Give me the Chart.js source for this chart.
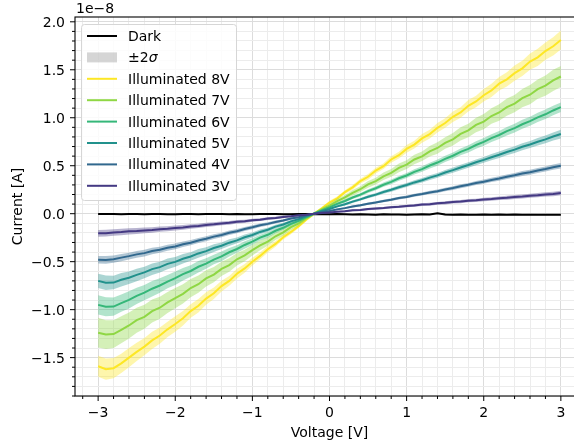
<!DOCTYPE html>
<html>
<head>
<meta charset="utf-8">
<script src="https://cdn.jsdelivr.net/npm/chart.js@4"></script>
<style>
  html, body { margin: 0; padding: 0; background: #fff; overflow: hidden; }
  #wrap { width: 600px; height: 447px; }
</style>
</head>
<body>
<div id="wrap"><canvas id="ivChart" width="600" height="447"></canvas></div>
<script>
// I-V sweep, current in units of 1e-8 A

const voltage = [-3.0,-2.9,-2.8,-2.7,-2.6,-2.5,-2.4,-2.3,-2.2,-2.1,-2.0,-1.9,-1.8,-1.7,-1.6,-1.5,-1.4,-1.3,-1.2,-1.1,-1.0,-0.9,-0.8,-0.7,-0.6,-0.5,-0.4,-0.3,-0.2,-0.1,0.0,0.1,0.2,0.3,0.4,0.5,0.6,0.7,0.8,0.9,1.0,1.1,1.2,1.3,1.4,1.5,1.6,1.7,1.8,1.9,2.0,2.1,2.2,2.3,2.4,2.5,2.6,2.7,2.8,2.9,3.0];

const dark = [-0.002,-0.004,-0.003,-0.005,-0.004,-0.003,-0.006,-0.004,-0.002,-0.005,-0.006,-0.004,-0.003,-0.005,-0.004,-0.002,-0.003,-0.005,-0.004,-0.006,-0.005,-0.003,-0.002,-0.004,-0.006,-0.005,-0.003,-0.004,-0.006,
  -0.005,-0.007,-0.004,-0.006,-0.009,-0.006,-0.008,-0.01,-0.007,-0.009,-0.008,-0.01,-0.008,-0.006,-0.008,0.004,-0.009,-0.01,-0.008,-0.011,-0.01,-0.009,-0.011,-0.008,-0.01,-0.009,-0.011,-0.01,-0.012,-0.01,-0.011,-0.012];
const ill8V = [-1.59,-1.62,-1.61,-1.56,-1.50,-1.44,-1.385,-1.32,-1.27,-1.205,-1.15,-1.09,-1.015,-0.96,-0.885,-0.83,-0.755,-0.70,-0.625,-0.57,-0.50,-0.44,-0.37,-0.315,-0.245,-0.19,-0.13,-0.06,0.0,
  0.055,0.115,0.16,0.225,0.275,0.34,0.385,0.45,0.495,0.565,0.61,0.675,0.72,0.785,0.83,0.895,0.945,1.01,1.055,1.125,1.17,1.235,1.285,1.355,1.40,1.465,1.515,1.585,1.63,1.695,1.745,1.81];
const ill7V = [-1.24,-1.26,-1.255,-1.21,-1.165,-1.11,-1.075,-1.015,-0.98,-0.925,-0.88,-0.835,-0.775,-0.735,-0.675,-0.635,-0.575,-0.535,-0.475,-0.435,-0.38,-0.33,-0.29,-0.235,-0.195,-0.14,-0.1,-0.045,0.0,
  0.045,0.085,0.13,0.17,0.218,0.255,0.305,0.34,0.39,0.425,0.478,0.512,0.565,0.598,0.65,0.685,0.738,0.775,0.832,0.868,0.925,0.96,1.018,1.055,1.11,1.148,1.205,1.24,1.298,1.335,1.39,1.43];
const ill6V = [-0.95,-0.97,-0.968,-0.932,-0.898,-0.857,-0.823,-0.782,-0.748,-0.708,-0.672,-0.63,-0.597,-0.553,-0.52,-0.478,-0.445,-0.402,-0.368,-0.326,-0.292,-0.25,-0.22,-0.178,-0.147,-0.106,-0.075,-0.034,0.0,
  0.034,0.066,0.102,0.132,0.169,0.198,0.236,0.265,0.302,0.332,0.369,0.398,0.436,0.465,0.502,0.533,0.572,0.604,0.644,0.676,0.716,0.748,0.788,0.82,0.86,0.892,0.932,0.964,1.004,1.036,1.076,1.11];
const ill5V = [-0.70,-0.72,-0.718,-0.688,-0.667,-0.638,-0.612,-0.578,-0.557,-0.523,-0.502,-0.47,-0.446,-0.414,-0.39,-0.358,-0.334,-0.302,-0.278,-0.246,-0.222,-0.19,-0.167,-0.135,-0.112,-0.08,-0.057,-0.025,0.0,
  0.026,0.049,0.076,0.099,0.126,0.149,0.176,0.199,0.226,0.249,0.276,0.299,0.326,0.349,0.376,0.399,0.429,0.454,0.482,0.507,0.536,0.561,0.589,0.614,0.643,0.668,0.697,0.721,0.75,0.775,0.804,0.83];
const ill4V = [-0.48,-0.482,-0.474,-0.458,-0.442,-0.424,-0.411,-0.389,-0.376,-0.354,-0.341,-0.319,-0.302,-0.279,-0.262,-0.239,-0.222,-0.199,-0.182,-0.159,-0.141,-0.121,-0.106,-0.086,-0.071,-0.051,-0.036,-0.016,0.0,
  0.016,0.029,0.045,0.058,0.075,0.087,0.104,0.117,0.133,0.146,0.163,0.175,0.192,0.205,0.221,0.234,0.253,0.267,0.286,0.301,0.319,0.334,0.352,0.367,0.385,0.4,0.419,0.433,0.451,0.466,0.485,0.50];
const ill3V = [-0.205,-0.203,-0.196,-0.191,-0.184,-0.181,-0.174,-0.169,-0.161,-0.157,-0.149,-0.143,-0.133,-0.127,-0.117,-0.111,-0.101,-0.095,-0.085,-0.079,-0.069,-0.062,-0.051,-0.045,-0.034,-0.027,-0.016,-0.01,0.0,
  0.008,0.012,0.021,0.026,0.035,0.039,0.048,0.053,0.059,0.068,0.073,0.081,0.086,0.095,0.099,0.108,0.113,0.121,0.126,0.135,0.139,0.148,0.153,0.161,0.166,0.174,0.179,0.188,0.193,0.201,0.206,0.215];

// 2 sigma half widths
const sigDark = [0.008,0.009,0.008,0.007,0.008,0.009,0.008,0.008,0.007,0.008,0.009,0.008,0.007,0.008,0.008,0.009,0.008,0.007,0.008,0.008,0.009,0.008,0.008,0.007,0.008,0.009,0.008,0.008,0.007,0.008,
  0.008,0.009,0.008,0.007,0.008,0.008,0.009,0.008,0.008,0.007,0.008,0.009,0.008,0.008,0.007,0.012,0.009,0.008,0.008,0.007,0.008,0.009,0.008,0.008,0.007,0.008,0.009,0.008,0.008,0.007,0.008];
const sig8V = [0.11,0.11,0.105,0.10,0.10,0.095,0.09,0.09,0.085,0.08,0.08,0.075,0.07,0.07,0.065,0.06,0.055,0.05,0.05,0.045,0.04,0.035,0.035,0.03,0.025,0.025,0.02,0.02,0.015,
  0.015,0.02,0.02,0.02,0.025,0.025,0.03,0.03,0.03,0.035,0.035,0.04,0.04,0.045,0.045,0.05,0.05,0.055,0.055,0.06,0.06,0.065,0.07,0.07,0.075,0.08,0.08,0.085,0.09,0.09,0.095,0.10];
const sig7V = [0.155,0.15,0.145,0.14,0.135,0.13,0.125,0.12,0.115,0.11,0.105,0.10,0.095,0.09,0.085,0.08,0.075,0.07,0.065,0.06,0.055,0.05,0.045,0.04,0.035,0.03,0.025,0.02,0.015,
  0.015,0.02,0.025,0.025,0.03,0.03,0.035,0.035,0.04,0.04,0.045,0.045,0.05,0.05,0.055,0.06,0.06,0.065,0.07,0.07,0.075,0.08,0.08,0.085,0.09,0.09,0.095,0.10,0.10,0.105,0.11,0.11];
const sig6V = [0.10,0.10,0.095,0.09,0.09,0.085,0.08,0.08,0.075,0.07,0.07,0.065,0.06,0.06,0.055,0.05,0.05,0.045,0.04,0.04,0.035,0.03,0.03,0.025,0.02,0.02,0.015,0.015,0.01,
  0.01,0.012,0.014,0.015,0.016,0.018,0.02,0.021,0.022,0.024,0.025,0.026,0.028,0.029,0.03,0.032,0.033,0.034,0.036,0.037,0.038,0.04,0.041,0.042,0.044,0.045,0.046,0.047,0.048,0.05,0.05,0.05];
const sig5V = [0.075,0.075,0.07,0.07,0.065,0.065,0.06,0.06,0.055,0.055,0.05,0.05,0.045,0.045,0.04,0.04,0.035,0.035,0.03,0.03,0.025,0.025,0.02,0.02,0.018,0.015,0.012,0.01,0.01,
  0.01,0.01,0.012,0.013,0.014,0.015,0.016,0.017,0.018,0.019,0.02,0.021,0.022,0.023,0.024,0.025,0.026,0.027,0.028,0.029,0.03,0.031,0.032,0.033,0.034,0.035,0.036,0.037,0.038,0.04,0.042,0.045];
const sig4V = [0.04,0.04,0.038,0.037,0.036,0.035,0.034,0.033,0.032,0.031,0.03,0.029,0.028,0.027,0.026,0.025,0.024,0.023,0.022,0.021,0.02,0.018,0.016,0.015,0.014,0.012,0.011,0.01,0.008,
  0.008,0.008,0.009,0.01,0.01,0.011,0.012,0.012,0.013,0.014,0.014,0.015,0.016,0.016,0.017,0.018,0.018,0.019,0.02,0.02,0.021,0.022,0.022,0.023,0.024,0.024,0.025,0.026,0.026,0.027,0.028,0.028];
const sig3V = [0.035,0.035,0.034,0.033,0.032,0.031,0.03,0.029,0.028,0.027,0.026,0.025,0.024,0.023,0.022,0.021,0.02,0.019,0.018,0.017,0.016,0.015,0.014,0.013,0.012,0.011,0.01,0.009,0.008,
  0.008,0.008,0.009,0.009,0.01,0.01,0.011,0.011,0.012,0.012,0.013,0.013,0.014,0.014,0.015,0.015,0.016,0.016,0.017,0.017,0.018,0.018,0.019,0.019,0.02,0.02,0.021,0.021,0.022,0.022,0.023,0.023];

// ticks
const xMajorTicks = [-3, -2, -1, 0, 1, 2, 3];
const xMinorTicks = [-3.2,-2.8,-2.6,-2.4,-2.2,-1.8,-1.6,-1.4,-1.2,-0.8,-0.6,-0.4,-0.2,0.2,0.4,0.6,0.8,1.2,1.4,1.6,1.8,2.2,2.4,2.6,2.8,3.2];
const yMajorTicks = [-1.5, -1.0, -0.5, 0.0, 0.5, 1.0, 1.5, 2.0];
const yMinorTicks = [-1.9,-1.8,-1.7,-1.6,-1.4,-1.3,-1.2,-1.1,-0.9,-0.8,-0.7,-0.6,-0.4,-0.3,-0.2,-0.1,0.1,0.2,0.3,0.4,0.6,0.7,0.8,0.9,1.1,1.2,1.3,1.4,1.6,1.7,1.8,1.9];
const xTickLabels = ['\u22123', '\u22122', '\u22121', '0', '1', '2', '3'];
const yTickLabels = ['\u22121.5', '\u22121.0', '\u22120.5', '0.0', '0.5', '1.0', '1.5', '2.0'];

const series = [
  { label: 'Illuminated 8V', color: '#fde725', mean: ill8V, sig: sig8V },
  { label: 'Illuminated 7V', color: '#8fd744', mean: ill7V, sig: sig7V },
  { label: 'Illuminated 6V', color: '#35b779', mean: ill6V, sig: sig6V },
  { label: 'Illuminated 5V', color: '#21918c', mean: ill5V, sig: sig5V },
  { label: 'Illuminated 4V', color: '#31688e', mean: ill4V, sig: sig4V },
  { label: 'Illuminated 3V', color: '#443983', mean: ill3V, sig: sig3V },
];

const FONT = '"DejaVu Sans", sans-serif';
const FS = '14px ';

function rgba(hex, a) {
  const n = parseInt(hex.slice(1), 16);
  return `rgba(${(n >> 16) & 255},${(n >> 8) & 255},${n & 255},${a})`;
}
function pts(arr, sig, sign) {
  return voltage.map((v, i) => ({ x: v, y: arr[i] + sign * (sig ? sig[i] : 0) }));
}

// build datasets: band (upper fills to lower) then mean line
const datasets = [];
let order = 100;
function addGroup(mean, sig, lineColor, bandColor) {
  datasets.push({ data: pts(mean, sig, 1), borderWidth: 0, pointRadius: 0, fill: '+1', backgroundColor: bandColor, order: order-- });
  datasets.push({ data: pts(mean, sig, -1), borderWidth: 0, pointRadius: 0, fill: false, order: order-- });
  datasets.push({ data: pts(mean, null, 0), borderColor: lineColor, borderWidth: 2, pointRadius: 0, fill: false, order: order-- });
}
addGroup(dark, sigDark, '#000000', 'rgba(128,128,128,0.33)');
series.forEach(s => addGroup(s.mean, s.sig, s.color, rgba(s.color, 0.38)));

const isMajor = (list, v) => list.some(m => Math.abs(m - v) < 1e-9);

const decor = {
  id: 'decor',
  afterDraw(chart) {
    const { ctx, chartArea: a, scales: { x, y } } = chart;
    ctx.save();
    ctx.strokeStyle = '#000';
    ctx.fillStyle = '#000';

    // spines
    ctx.lineWidth = 1.1;
    ctx.strokeRect(a.left, a.top, a.right - a.left, a.bottom - a.top);

    // tick marks
    ctx.lineWidth = 1;
    ctx.beginPath();
    xMajorTicks.forEach(v => { const p = x.getPixelForValue(v); ctx.moveTo(p, a.bottom); ctx.lineTo(p, a.bottom + 5); });
    xMinorTicks.forEach(v => { const p = x.getPixelForValue(v); ctx.moveTo(p, a.bottom); ctx.lineTo(p, a.bottom + 3); });
    yMajorTicks.forEach(v => { const p = y.getPixelForValue(v); ctx.moveTo(a.left, p); ctx.lineTo(a.left - 5, p); });
    yMinorTicks.forEach(v => { const p = y.getPixelForValue(v); ctx.moveTo(a.left, p); ctx.lineTo(a.left - 3, p); });
    ctx.stroke();

    // tick labels
    ctx.font = FS + FONT;
    ctx.textBaseline = 'alphabetic';
    ctx.textAlign = 'center';
    xMajorTicks.forEach((v, i) => ctx.fillText(xTickLabels[i], x.getPixelForValue(v), a.bottom + 21));
    ctx.textAlign = 'right';
    yMajorTicks.forEach((v, i) => ctx.fillText(yTickLabels[i], a.left - 10, y.getPixelForValue(v) + 5));

    // offset text and axis titles
    ctx.textAlign = 'left';
    ctx.fillText('1e\u22128', a.left + 1, a.top - 4);
    ctx.textAlign = 'center';
    ctx.fillText('Voltage [V]', (a.left + a.right) / 2, a.bottom + 41);
    ctx.save();
    ctx.translate(21.5, (a.top + a.bottom) / 2);
    ctx.rotate(-Math.PI / 2);
    ctx.fillText('Current [A]', 0, 0);
    ctx.restore();

    // legend
    const bx = a.left + 6.5, by = a.top + 7.5, bw = 155, bh = 176, r = 3;
    ctx.beginPath();
    ctx.moveTo(bx + r, by);
    ctx.arcTo(bx + bw, by, bx + bw, by + bh, r);
    ctx.arcTo(bx + bw, by + bh, bx, by + bh, r);
    ctx.arcTo(bx, by + bh, bx, by, r);
    ctx.arcTo(bx, by, bx + bw, by, r);
    ctx.closePath();
    ctx.fillStyle = 'rgba(255,255,255,0.85)';
    ctx.fill();
    ctx.strokeStyle = '#d6d6d6';
    ctx.lineWidth = 1;
    ctx.stroke();

    const rows = [{ kind: 'line', color: '#000', label: 'Dark' }, { kind: 'patch', label: '\u00b12' }]
      .concat(series.map(s => ({ kind: 'line', color: s.color, label: s.label })));
    const hx0 = a.left + 12, hx1 = a.left + 42, tx = a.left + 53;
    ctx.textAlign = 'left';
    ctx.textBaseline = 'alphabetic';
    rows.forEach((row, i) => {
      const cy = a.top + 19 + i * 21.4;
      if (row.kind === 'line') {
        ctx.strokeStyle = row.color;
        ctx.lineWidth = 2;
        ctx.beginPath();
        ctx.moveTo(hx0, cy);
        ctx.lineTo(hx1, cy);
        ctx.stroke();
      } else {
        ctx.fillStyle = 'rgba(128,128,128,0.33)';
        ctx.fillRect(hx0, cy - 5, hx1 - hx0, 10);
      }
      ctx.fillStyle = '#000';
      ctx.font = FS + FONT;
      ctx.fillText(row.label, tx, cy + 5);
      if (row.kind === 'patch') {
        const w = ctx.measureText(row.label).width;
        ctx.font = 'italic ' + FS + FONT;
        ctx.fillText('\u03c3', tx + w, cy + 5);
      }
    });
    ctx.restore();
  }
};

const gridColor = (list) => (c) => {
  const v = c.tick && c.tick.value;
  return isMajor(list, v) ? '#dcdcdc' : '#ececec';
};

const config = {
  type: 'line',
  data: { datasets: datasets },
  options: {
    responsive: false,
    devicePixelRatio: 1,
    animation: false,
    layout: { padding: { left: 0, right: 16, top: 17, bottom: 0 } },
    plugins: { legend: { display: false }, tooltip: { enabled: false } },
    elements: { line: { tension: 0 }, point: { radius: 0 } },
    scales: {
      x: {
        type: 'linear',
        min: -3.3,
        max: 3.3,
        afterBuildTicks: s => { s.ticks = xMajorTicks.concat(xMinorTicks).map(v => ({ value: v })); },
        afterFit: s => { s.height = 51; },
        ticks: { display: false },
        border: { display: false },
        grid: { drawTicks: false, color: gridColor(xMajorTicks), lineWidth: 1 },
      },
      y: {
        type: 'linear',
        min: -1.9,
        max: 2.05,
        afterBuildTicks: s => { s.ticks = yMajorTicks.concat(yMinorTicks).map(v => ({ value: v })); },
        afterFit: s => { s.width = 75; },
        ticks: { display: false },
        border: { display: false },
        grid: { drawTicks: false, color: gridColor(yMajorTicks), lineWidth: 1 },
      },
    },
  },
  plugins: [decor],
};

const ctx = document.getElementById('ivChart').getContext('2d');
const ivChart = new Chart(ctx, config);
</script>
</body>
</html>
